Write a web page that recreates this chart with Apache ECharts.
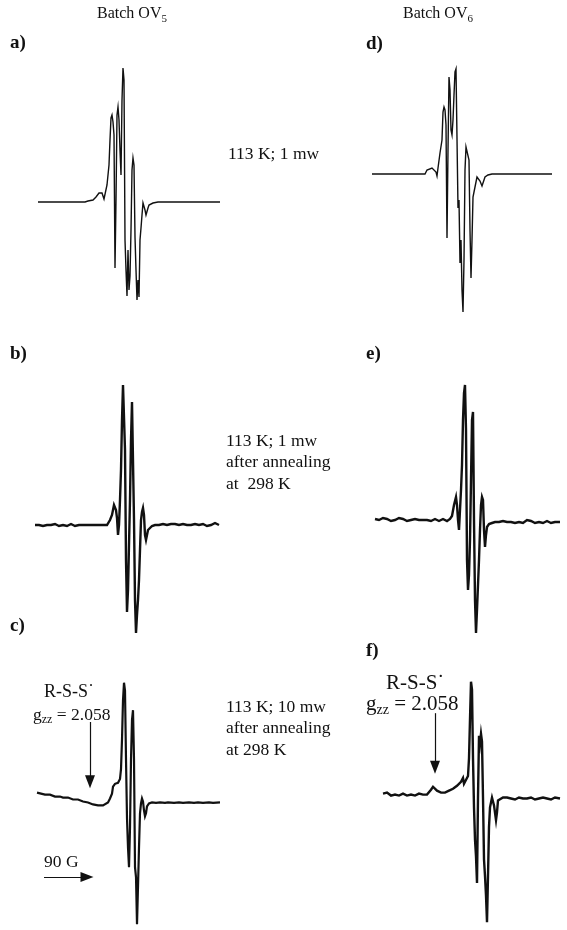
<!DOCTYPE html>
<html><head><meta charset="utf-8">
<script src="https://cdn.jsdelivr.net/npm/echarts@6/dist/echarts.min.js"></script>
<style>html,body{margin:0;padding:0;background:#fff}#c{width:567px;height:930px}</style>
</head><body><div id="c"></div>
<script>
// x: field offset (a.u.), y: EPR intensity (a.u.)
const spectrumA = [[0,0],[47,0],[50,1],[55,2],[58,5],[61,9],[64,9],[66,3],[68,3],[69,17],[71,37],[72,62],[73,84],[74,87],[75,80],[76,67],[77,-66],[78,2],[79,87],[80,95],[81,82],[82,52],[83,27],[84,102],[85,134],[86,122],[87,-38],[88,-68],[89,-94],[90,-48],[91,-88],[92,-74],[93,-28],[94,32],[95,44],[96,37],[97,-35],[98,-68],[99,-98],[100,-78],[101,-95],[102,-38],[103,-26],[104,-13],[105,-1],[106,-3],[107,-8],[108,-13],[109,-11],[110,-6],[111,-3],[112,-4],[113,-2],[115,-1],[120,0],[182,0]];
const spectrumB = [[0,0],[2,1],[4,0],[6,0],[8,-1],[10,1],[12,0],[14,-1],[16,0],[18,1],[20,1],[22,0],[24,-1],[26,0],[28,0],[30,1],[32,-1],[34,0],[36,1],[38,0],[40,-1],[42,-2],[44,0],[46,1],[48,0],[50,-1],[52,0],[54,1],[56,0],[58,-1],[60,0],[62,1],[64,0],[66,-1],[68,0],[70,1],[72,0],[73,1],[75,5],[77,10],[79,20],[80,22],[81,15],[82,7],[83,-10],[84,0],[85,25],[86,55],[87,105],[88,140],[89,142],[90,75],[91,-35],[92,-87],[93,-65],[94,-20],[95,25],[96,85],[97,123],[98,125],[99,5],[100,-75],[101,-108],[102,-90],[103,-75],[104,-55],[105,-25],[106,5],[107,13],[108,17],[109,10],[110,-10],[111,-15],[112,-10],[113,-5],[115,-3],[117,-1],[120,0],[122,1],[124,0],[126,-1],[128,1],[130,0],[132,0],[134,-1],[136,1],[138,0],[140,1],[142,-1],[144,0],[146,0],[148,1],[150,-1],[152,0],[154,1],[156,0],[158,-1],[160,1],[162,0],[164,0],[166,-1],[168,1],[170,0],[172,-1],[174,1],[176,0],[178,-1],[180,2],[182,0],[184,0]];
const spectrumC = [[0,0],[2,0],[4,-1],[6,0],[8,-2],[10,-1],[13,-2],[15,-3],[18,-4],[20,-3],[23,-4],[26,-5],[28,-6],[31,-5],[33,-6],[36,-7],[38,-8],[41,-7],[43,-8],[46,-9],[48,-10],[51,-10],[53,-11],[56,-12],[58,-12],[61,-13],[63,-13],[66,-13],[68,-12],[71,-10],[73,-6],[75,-1],[76,6],[78,9],[81,10],[83,14],[84,24],[85,54],[86,94],[87,112],[88,104],[89,34],[90,-26],[91,-56],[92,-76],[93,-36],[94,34],[95,74],[96,84],[97,34],[98,-76],[99,-86],[100,-134],[101,-96],[102,-56],[103,-21],[104,-11],[105,-6],[106,-9],[107,-18],[108,-24],[109,-21],[110,-14],[112,-11],[115,-10],[119,-10.5],[123,-10],[128,-10.5],[131,-10],[137,-10.5],[142,-10],[146,-10.5],[152,-10],[157,-10.5],[161,-10],[166,-10.5],[172,-10],[176,-10.5],[183,-10]];
const spectrumD = [[0,0],[53,0],[55,4],[60,6],[62,7],[64,2],[65,-2],[66,6],[68,21],[70,34],[71,62],[72,67],[73,64],[74,49],[75,-64],[76,24],[77,97],[78,84],[79,44],[80,39],[81,54],[82,79],[83,102],[84,105],[85,106],[86,-34],[87,-26],[88,-89],[89,-66],[90,-116],[91,-138],[92,-86],[93,4],[94,27],[95,29],[96,26],[97,14],[98,-56],[99,-104],[100,-66],[101,-23],[102,-18],[103,-13],[105,-3],[106,-2],[108,-7],[110,-12],[112,-6],[113,-3],[116,-1],[120,0],[180,0]];
const spectrumE = [[0,1],[2,2],[4,0],[6,1],[8,2],[10,0],[12,1],[14,0],[16,-1],[18,1],[20,0],[22,1],[24,2],[26,0],[28,1],[30,0],[32,-1],[34,1],[36,0],[38,0],[40,1],[42,-1],[44,0],[46,1],[48,0],[50,-1],[52,0],[54,1],[56,-1],[58,0],[60,1],[62,0],[64,-1],[66,0],[68,1],[70,0],[72,-1],[75,1],[77,4],[79,15],[81,23],[82,15],[83,0],[84,-10],[85,10],[86,30],[87,55],[88,100],[89,127],[90,135],[91,90],[92,-40],[93,-70],[94,-55],[95,-20],[96,40],[97,100],[98,108],[99,0],[100,-80],[101,-113],[102,-90],[103,-65],[104,-40],[105,-10],[106,15],[107,23],[108,20],[109,-10],[110,-27],[111,-15],[112,-7],[114,-4],[117,-3],[120,-2],[122,-1],[124,-2],[126,-3],[128,-1],[130,-2],[132,-2],[134,0],[136,-2],[138,-1],[140,-3],[142,-1],[144,-2],[146,-1],[148,-3],[150,-2],[152,0],[154,-2],[156,-1],[158,-2],[160,-3],[162,-1],[164,-2],[166,-1],[168,-3],[170,-2],[172,-1],[174,-2],[176,-3],[178,-1],[180,-2],[182,-3],[185,-2]];
const spectrumF = [[0,1],[2,0],[4,2],[6,0],[8,-1],[10,1],[12,0],[14,1],[16,-1],[18,0],[20,1],[22,0],[24,-1],[26,1],[28,0],[30,1],[32,-1],[34,0],[36,1],[38,-1],[40,0],[42,1],[44,0],[46,2],[48,5],[50,8],[52,6],[54,4],[56,3],[58,2],[60,1],[62,2],[64,3],[66,4],[68,5],[70,6],[72,7],[74,9],[76,11],[78,13],[79,15],[80,17],[81,11],[83,13],[85,19],[86,37],[87,77],[88,115],[89,107],[90,37],[91,-13],[92,-46],[93,-63],[94,-90],[95,-3],[96,60],[97,52],[98,62],[99,54],[100,-3],[101,-66],[102,-83],[103,-103],[104,-130],[105,-83],[106,-33],[107,-13],[109,-3],[111,-11],[113,-26],[114,-18],[115,-6],[117,-4],[120,-3],[122,-4],[124,-3],[126,-5],[128,-4],[130,-3],[132,-5],[134,-4],[136,-3],[138,-5],[140,-4],[142,-3],[144,-4],[146,-5],[148,-3],[150,-4],[152,-5],[154,-3],[156,-4],[158,-4],[160,-3],[162,-5],[164,-4],[166,-3],[168,-5],[170,-4],[172,-3],[174,-5],[177,-4]];

const batchLabels = ['Batch OV', 'Batch OV'];
const batchSubs = ['5', '6'];
const panelLetters = ['a)', 'b)', 'c)', 'd)', 'e)', 'f)'];
const conditionLines = [['113 K; 1 mw'], ['113 K; 1 mw', 'after annealing', 'at  298 K'], ['113 K; 10 mw', 'after annealing', 'at 298 K']];
const radicalLabel = 'R-S-S˙';
const gzzValue = '2.058';
const scaleLabel = '90 G';

const F = '"Liberation Serif","Times New Roman",serif';
const chart = echarts.init(document.getElementById('c'), null, {renderer: 'canvas'});

const panels = [
  {data: spectrumA, box: [38, 60, 182, 260], y: [-118, 142], w: 1.4},
  {data: spectrumB, box: [35, 370, 185, 270], y: [-115, 155], w: 2.4},
  {data: spectrumC, box: [37, 670, 183, 265], y: [-140, 125], w: 2.2},
  {data: spectrumD, box: [372, 60, 180, 260], y: [-146, 114], w: 1.4},
  {data: spectrumE, box: [375, 370, 185, 270], y: [-120, 150], w: 2.4},
  {data: spectrumF, box: [383, 670, 177, 265], y: [-138, 127], w: 2.4}
];

const grids = [], xAxes = [], yAxes = [], series = [];
panels.forEach((p, i) => {
  grids.push({left: p.box[0], top: p.box[1], width: p.box[2], height: p.box[3], containLabel: false});
  xAxes.push({type: 'value', gridIndex: i, min: 0, max: p.box[2], show: false});
  yAxes.push({type: 'value', gridIndex: i, min: p.y[0], max: p.y[1], show: false});
  const s = {
    type: 'line', xAxisIndex: i, yAxisIndex: i, data: p.data, symbol: 'none', showSymbol: false,
    clip: false, animation: false, lineStyle: {color: '#111', width: p.w, join: 'miter'}
  };
  const arrowStyle = {silent: true, symbol: ['none', 'triangle'], symbolSize: [10, 13], label: {show: false},
    lineStyle: {color: '#111', width: 1.2, type: 'solid'}, itemStyle: {color: '#111'}, animation: false};
  if (i === 2) {
    s.markLine = Object.assign({}, arrowStyle, {data: [
      [{coord: [53, 72]}, {coord: [53, 11]}],
      [{coord: [7, -86]}, {coord: [50, -86]}]
    ]});
  }
  if (i === 5) {
    s.markLine = Object.assign({}, arrowStyle, {data: [
      [{coord: [52, 83]}, {coord: [52, 28]}]
    ]});
  }
  series.push(s);
});

function richSet(size) {
  return {
    a: {fontSize: size, fontFamily: F, color: '#111', lineHeight: size + 5},
    s: {fontSize: Math.round(size * 0.68), fontFamily: F, color: '#111', verticalAlign: 'bottom'}
  };
}
const g = [];
function txt(x, y, text, size, bold) {
  g.push({type: 'text', left: x, top: y, silent: true,
    style: {text: text, font: (bold ? 'bold ' : '') + size + 'px ' + F, fill: '#111', rich: richSet(size)}});
}
txt(97, 6, '{a|' + batchLabels[0] + '}{s|' + batchSubs[0] + '}', 16);
txt(403, 6, '{a|' + batchLabels[1] + '}{s|' + batchSubs[1] + '}', 16);
const letterPos = [[10, 34], [10, 345], [10, 617], [366, 35], [366, 345], [366, 642]];
panelLetters.forEach((l, i) => txt(letterPos[i][0], letterPos[i][1], l, 19, true));
const condTop = [145, 432, 698];
conditionLines.forEach((lines, k) => lines.forEach((ln, j) => txt(k === 0 ? 228 : 226, condTop[k] + j * 21.7, ln, 17.5)));
// annotations c
txt(44, 683, radicalLabel, 18);
txt(33, 706, '{a|g}{s|zz}{a| = ' + gzzValue + '}', 17.5);
txt(44, 853, scaleLabel, 17.5);
// annotations f
txt(386, 673, radicalLabel, 21);
txt(366, 694, '{a|g}{s|zz}{a| = ' + gzzValue + '}', 21);

chart.setOption({animation: false, grid: grids, xAxis: xAxes, yAxis: yAxes, series: series, graphic: g});
</script></body></html>
